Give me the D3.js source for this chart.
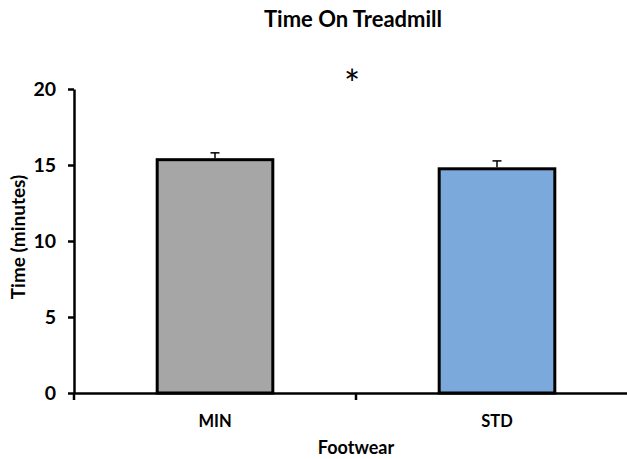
<!DOCTYPE html>
<html>
<head>
<meta charset="utf-8">
<script src="https://cdn.jsdelivr.net/npm/d3@7"></script>
<style>
  body { margin: 0; background: #fff; }
  text { font-family: Lato, "Open Sans", sans-serif; font-weight: bold; fill: #000; }
</style>
</head>
<body>
<div id="chart"></div>
<script>
var categories = ['MIN', 'STD'];
var values = [15.35, 14.75];
var errors = [0.45, 0.52];
var colors = ['#a6a6a6', '#7ca9dc'];
var y_ticks = [0, 5, 10, 15, 20];

var chart_width = 627;
var chart_height = 459;

var svg = d3.select('#chart')
    .append('svg')
    .attr('width', chart_width)
    .attr('height', chart_height);

var x_scale = d3.scaleBand()
    .domain(categories)
    .range([74, 638])
    .paddingInner(0.59)
    .paddingOuter(0.295);

var y_scale = d3.scaleLinear()
    .domain([0, 20])
    .range([393, 89]);

// bars
svg.append('g')
    .selectAll('rect')
    .data(values)
    .enter()
    .append('rect')
    .attr('x', function (d, i) { return x_scale(categories[i]); })
    .attr('y', function (d) { return y_scale(d); })
    .attr('width', x_scale.bandwidth())
    .attr('height', function (d) { return y_scale(0) - y_scale(d); })
    .attr('fill', function (d, i) { return colors[i]; })
    .attr('stroke', '#000')
    .attr('stroke-width', 3);

// error bars (upper only)
var err = svg.append('g')
    .selectAll('g')
    .data(values)
    .enter()
    .append('g')
    .attr('stroke', '#000')
    .attr('stroke-width', 1.5);

err.append('line')
    .attr('x1', function (d, i) { return x_scale(categories[i]) + x_scale.bandwidth() / 2; })
    .attr('x2', function (d, i) { return x_scale(categories[i]) + x_scale.bandwidth() / 2; })
    .attr('y1', function (d) { return y_scale(d) - 1.5; })
    .attr('y2', function (d, i) { return y_scale(d + errors[i]); });

err.append('line')
    .attr('x1', function (d, i) { return x_scale(categories[i]) + x_scale.bandwidth() / 2 - 4.5; })
    .attr('x2', function (d, i) { return x_scale(categories[i]) + x_scale.bandwidth() / 2 + 4.5; })
    .attr('y1', function (d, i) { return y_scale(d + errors[i]); })
    .attr('y2', function (d, i) { return y_scale(d + errors[i]); });

// y axis
var y_axis = d3.axisLeft(y_scale)
    .tickValues(y_ticks)
    .tickSizeInner(6)
    .tickSizeOuter(0)
    .tickPadding(12);

var gy = svg.append('g')
    .attr('class', 'y-axis')
    .attr('transform', 'translate(74,0)')
    .call(y_axis);
gy.selectAll('path, line').attr('stroke', '#000').attr('stroke-width', 2.5);
gy.selectAll('text')
    .style('font-family', 'Lato, sans-serif')
    .style('font-weight', 'bold')
    .style('font-size', '19.5px');

// x axis
var x_axis = d3.axisBottom(x_scale)
    .tickSize(0)
    .tickPadding(22);

var gx = svg.append('g')
    .attr('class', 'x-axis')
    .attr('transform', 'translate(0,393)')
    .call(x_axis);
gx.select('path').attr('stroke', '#000').attr('stroke-width', 2.5);
gx.selectAll('text')
    .style('font-family', 'Lato, sans-serif')
    .style('font-weight', 'bold')
    .style('font-size', '16.5px');

// tick marks between categories
var bounds = [x_scale.range()[0]];
categories.forEach(function (c) {
    bounds.push(x_scale(c) + x_scale.bandwidth() / 2 + x_scale.step() / 2);
});
gx.selectAll('.bound')
    .data(bounds)
    .enter()
    .append('line')
    .attr('class', 'bound')
    .attr('x1', function (d) { return d; })
    .attr('x2', function (d) { return d; })
    .attr('y1', 0)
    .attr('y2', 7)
    .attr('stroke', '#000')
    .attr('stroke-width', 2.5);

// titles
svg.append('text')
    .attr('x', 353)
    .attr('y', 27)
    .attr('text-anchor', 'middle')
    .style('font-size', '22px')
    .text('Time On Treadmill');

svg.append('text')
    .attr('x', 352)
    .attr('y', 98)
    .attr('text-anchor', 'middle')
    .style('font-weight', 'normal')
    .style('font-size', '38px')
    .text('*');

svg.append('text')
    .attr('x', 356)
    .attr('y', 454)
    .attr('text-anchor', 'middle')
    .style('font-size', '18px')
    .text('Footwear');

svg.append('text')
    .attr('transform', 'translate(25,237) rotate(-90)')
    .attr('text-anchor', 'middle')
    .style('font-size', '19px')
    .text('Time (minutes)');
</script>
</body>
</html>
